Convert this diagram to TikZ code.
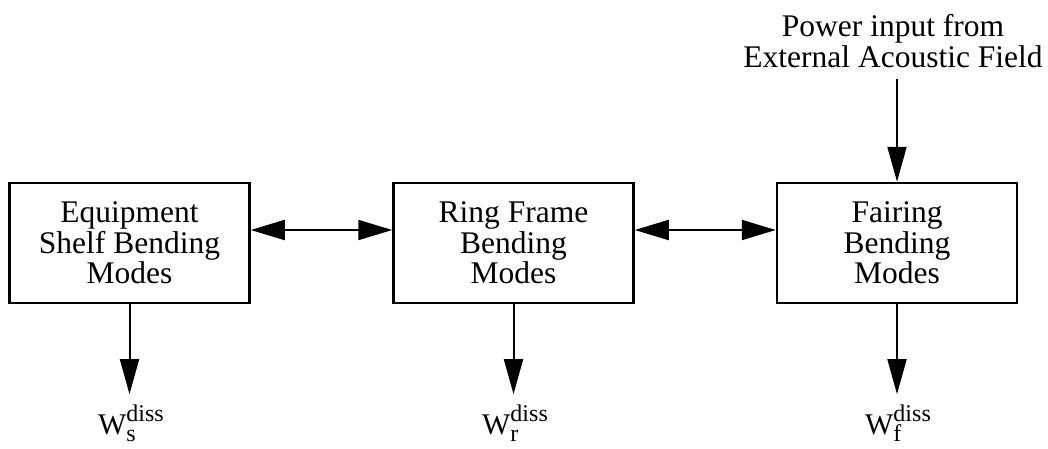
\documentclass[tikz,border=0pt]{standalone}
\usepackage{fontspec}
\setmainfont{Liberation Serif}
\usetikzlibrary{arrows.meta}
\newcommand\wdiss[1]{{\fontsize{30}{30}\selectfont W}\rlap{\raisebox{-7pt}{\fontsize{24}{24}\selectfont #1}}\raisebox{13pt}{\fontsize{24}{24}\selectfont diss}}
\begin{document}
\begin{tikzpicture}[x=1pt,y=-1pt,
  box/.style={draw,line width=2.5pt,minimum width=240pt,minimum height=120pt,align=center,inner sep=0pt,font=\fontsize{31.5}{30.5}\selectfont},
  txt/.style={align=center,inner sep=0pt,font=\fontsize{31.5}{31}\selectfont},
  flow/.style={line width=2pt,-{Triangle[length=35pt,width=19pt]}},
  both/.style={line width=2pt,{Triangle[length=34pt,width=20pt]}-{Triangle[length=34pt,width=20pt]}},
  lbl/.style={inner sep=0pt,anchor=base}]
\useasboundingbox (0,0) rectangle (1048,448);
\node[box] (shelf) at (129.5,243) {Equipment\\Shelf Bending\\Modes};
\node[box] (ring) at (513.5,243) {Ring Frame\\Bending\\Modes};
\node[box] (fairing) at (897,243) {Fairing\\Bending\\Modes};
\node[txt,anchor=north] (power) at (893,14.5) {Power input from\\External Acoustic Field};
\node[lbl] (ws) at (131,434) {\wdiss{s}};
\node[lbl] (wr) at (515,434) {\wdiss{r}};
\node[lbl] (wf) at (898,434) {\wdiss{f}};
\draw[both] ([yshift=13pt]shelf.east) -- ([yshift=13pt]ring.west);
\draw[both] ([yshift=13pt]ring.east) -- ([yshift=13pt]fairing.west);
\draw[flow,shorten <=11pt] (fairing.north |- power.south) -- (fairing.north);
\draw[flow,shorten >=10pt] (shelf.south) -- (shelf.south |- ws.north);
\draw[flow,shorten >=10pt] (ring.south) -- (ring.south |- wr.north);
\draw[flow,shorten >=10pt] (fairing.south) -- (fairing.south |- wf.north);
\end{tikzpicture}
\end{document}
